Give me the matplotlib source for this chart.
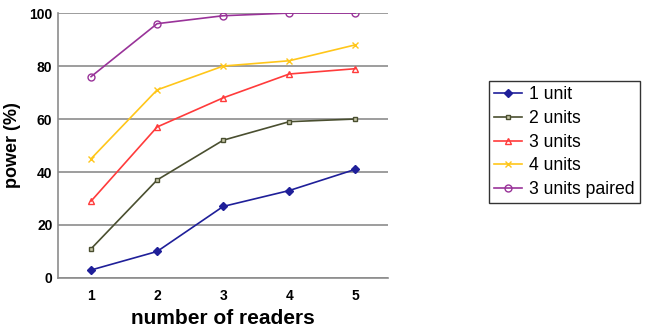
import matplotlib
matplotlib.use("Agg")
import matplotlib.pyplot as plt

plt.rcParams['font.family'] = ['Liberation Sans', 'DejaVu Sans']

# datos
readers = [1, 2, 3, 4, 5]
one_unit = [3, 10, 27, 33, 41]
two_units = [11, 37, 52, 59, 60]
three_units = [29, 57, 68, 77, 79]
four_units = [45, 71, 80, 82, 88]
three_paired = [76, 96, 99, 100, 100]

fig = plt.figure(figsize=(6.49, 3.27), dpi=100)
ax = fig.add_axes([0.0894, 0.150, 0.509, 0.810])

ax.plot(readers, one_unit, color='#1f1f99', marker='D', markersize=4.5, lw=1.2, label='1 unit')
ax.plot(readers, two_units, color='#4a4f30', marker='s', markersize=3.5, mfc='#c8c8a8', lw=1.2, label='2 units')
ax.plot(readers, three_units, color='#ff3b3b', marker='^', markersize=4.5, mfc='none', lw=1.2, label='3 units')
ax.plot(readers, four_units, color='#ffc61a', marker='x', markersize=4, lw=1.2, label='4 units')
ax.plot(readers, three_paired, color='#993399', marker='o', markersize=5, mfc='none', lw=1.2, label='3 units paired')

ax.set_xlim(0.5, 5.5)
ax.set_ylim(0, 100)
ax.set_xticks(readers)
ax.set_yticks(range(0, 101, 20))
ax.yaxis.grid(True, color='#8c8c8c', lw=1.2)
ax.set_axisbelow(True)
for s in ['top', 'right']:
    ax.spines[s].set_visible(False)
for s in ['left', 'bottom']:
    ax.spines[s].set_color('#8c8c8c')
    ax.spines[s].set_linewidth(1.2)
ax.tick_params(axis='y', length=0, pad=4, labelsize=10)
ax.tick_params(axis='x', length=0, pad=8, labelsize=10)
for lbl in ax.get_xticklabels() + ax.get_yticklabels():
    lbl.set_fontweight('bold')

ax.set_xlabel('number of readers', fontsize=15, fontweight='bold', labelpad=4)
ax.set_ylabel('power (%)', fontsize=13, fontweight='bold', labelpad=6)

leg = fig.legend(loc='upper left', bbox_to_anchor=(0.753, 0.752), fontsize=12.7,
                 frameon=True, fancybox=False, edgecolor='black',
                 handlelength=1.6, borderpad=0.3, labelspacing=0.38, handletextpad=0.4,
                 borderaxespad=0)
leg.get_frame().set_linewidth(1.0)

fig.savefig('out.png', dpi=100)
